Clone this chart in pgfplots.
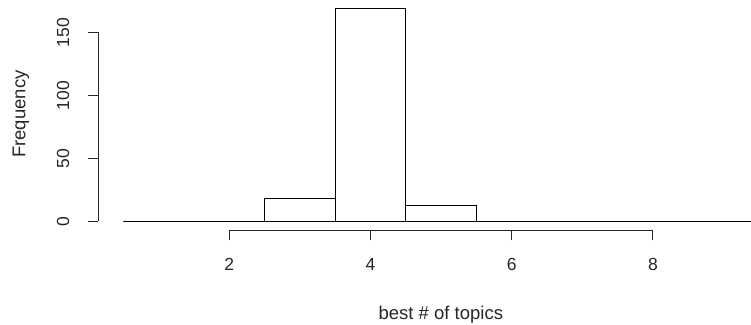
\documentclass[border=0pt]{standalone}
\usepackage{pgfplots}
\pgfplotsset{compat=1.18}
\usepackage{fontspec}
\setmainfont{Liberation Sans}
\begin{document}
\begin{tikzpicture}[x=1pt,y=1pt]
\useasboundingbox (0,0) rectangle (751,324);
\begin{axis}[
  at={(98pt,94pt)}, anchor=south west,
  scale only axis, width=653pt, height=230pt,
  xmin=0.14, xmax=9.39, ymin=-6.76, ymax=175.76,
  axis x line=bottom, axis y line=left,
  axis line style={draw=none},
  xtick={2,4,6,8}, ytick={0,50,100,150},
  tick align=outside, major tick length=10pt,
  tick style={black!85, line width=0.9pt},
  minor tick num=0,
  /pgf/number format/assume math mode=true,
  tick label style={font=\fontsize{17.5}{20}\selectfont, inner sep=0pt, text=black!85},
  xticklabel style={anchor=center, yshift=-24pt},
  yticklabel style={xshift=-25pt, rotate=90, anchor=center},
  label style={font=\fontsize{18.5}{21}\selectfont, inner sep=0pt, text=black!85},
  xlabel={best \# of topics},
  ylabel={Frequency},
  xlabel style={at={(axis description cs:0.525,-0.37)}, anchor=center},
  ylabel style={at={(axis description cs:-0.118,0.504)}, anchor=center},
  clip=false,
]
\addplot[ybar interval, draw=black, fill=none, line width=0.9pt] coordinates {(0.5,0)(1.5,0)(2.5,18)(3.5,169)(4.5,13)(5.5,0)(6.5,0)(7.5,0)(8.5,0)(9.5,0)};
\draw[black!85, line width=0.9pt] (axis cs:2,-6.76) -- (axis cs:8,-6.76);
\draw[black!85, line width=0.9pt] (axis cs:0.14,0) -- (axis cs:0.14,150);
\end{axis}
\end{tikzpicture}
\end{document}
